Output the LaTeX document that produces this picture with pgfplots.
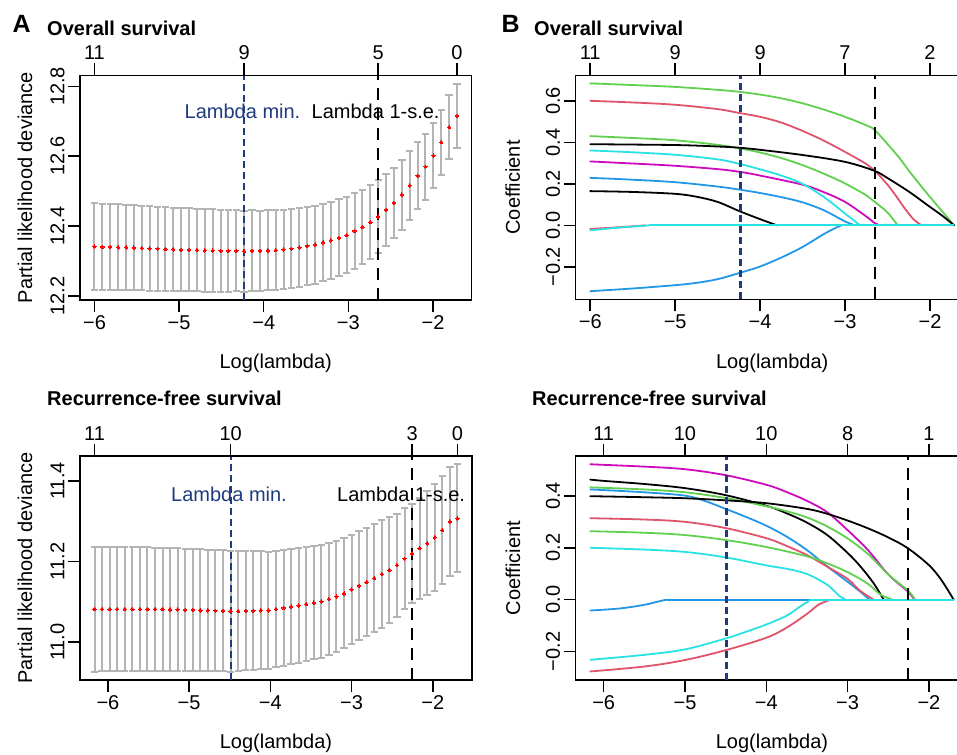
\documentclass[border=0pt]{standalone}
\usepackage{fontspec}
\setmainfont{Liberation Sans}
\usepackage{pgfplots}
\usepackage{pgfplotstable}
\pgfplotsset{compat=1.18}

\definecolor{cred}{HTML}{DF536B}
\definecolor{cgreen}{HTML}{61D04F}
\definecolor{cblue}{HTML}{2297E6}
\definecolor{ccyan}{HTML}{28E2E5}
\definecolor{cmag}{HTML}{CD0BBC}
\definecolor{navy}{HTML}{1F3A7D}
\definecolor{ebgray}{RGB}{180,180,180}

\newcommand{\fs}{\fontsize{20}{24}\selectfont}

% cross-validation curve, overall survival
\pgfplotstableread{
x m e
-6.000 12.341 0.1240
-5.907 12.340 0.1236
-5.814 12.340 0.1232
-5.721 12.339 0.1227
-5.627 12.339 0.1223
-5.534 12.338 0.1219
-5.441 12.337 0.1215
-5.348 12.336 0.1211
-5.255 12.335 0.1206
-5.162 12.334 0.1202
-5.069 12.333 0.1198
-4.976 12.332 0.1194
-4.882 12.332 0.1189
-4.789 12.331 0.1185
-4.696 12.330 0.1181
-4.603 12.330 0.1177
-4.510 12.329 0.1173
-4.417 12.329 0.1168
-4.324 12.329 0.1164
-4.231 12.328 0.1160
-4.137 12.329 0.1155
-4.044 12.329 0.1151
-3.951 12.330 0.1146
-3.858 12.331 0.1142
-3.765 12.333 0.1137
-3.672 12.335 0.1132
-3.579 12.338 0.1128
-3.485 12.343 0.1123
-3.392 12.347 0.1118
-3.299 12.353 0.1114
-3.206 12.359 0.1109
-3.113 12.366 0.1105
-3.020 12.374 0.1100
-2.927 12.386 0.1085
-2.834 12.397 0.1070
-2.740 12.411 0.1055
-2.647 12.427 0.1040
-2.554 12.446 0.1027
-2.461 12.466 0.1013
-2.368 12.490 0.1000
-2.275 12.516 0.0983
-2.182 12.544 0.0965
-2.089 12.570 0.0948
-1.995 12.602 0.0930
-1.902 12.640 0.0927
-1.809 12.683 0.0923
-1.716 12.716 0.0920
}\tabOS

% cross-validation curve, recurrence-free survival
\pgfplotstableread{
x m e
-6.165 11.082 0.1550
-6.072 11.082 0.1547
-5.979 11.082 0.1544
-5.886 11.082 0.1542
-5.793 11.082 0.1539
-5.700 11.082 0.1536
-5.606 11.082 0.1533
-5.513 11.082 0.1531
-5.420 11.082 0.1528
-5.327 11.082 0.1525
-5.234 11.081 0.1522
-5.141 11.081 0.1519
-5.048 11.080 0.1517
-4.955 11.080 0.1514
-4.862 11.079 0.1511
-4.769 11.079 0.1508
-4.676 11.078 0.1506
-4.582 11.078 0.1503
-4.489 11.077 0.1500
-4.396 11.077 0.1491
-4.303 11.078 0.1482
-4.210 11.078 0.1473
-4.117 11.079 0.1464
-4.024 11.079 0.1455
-3.931 11.082 0.1446
-3.838 11.085 0.1437
-3.745 11.088 0.1428
-3.652 11.091 0.1419
-3.558 11.094 0.1410
-3.465 11.098 0.1402
-3.372 11.101 0.1393
-3.279 11.107 0.1385
-3.186 11.113 0.1377
-3.093 11.121 0.1368
-3.000 11.131 0.1360
-2.907 11.140 0.1352
-2.814 11.149 0.1345
-2.721 11.159 0.1338
-2.628 11.169 0.1330
-2.534 11.179 0.1310
-2.441 11.191 0.1280
-2.348 11.207 0.1250
-2.255 11.220 0.1230
-2.162 11.233 0.1250
-2.069 11.245 0.1290
-1.976 11.260 0.1330
-1.883 11.278 0.1340
-1.790 11.299 0.1350
-1.696 11.307 0.1340
}\tabRFS

\pgfplotsset{
  rbase/.style={scale only axis, anchor=south west, tick align=outside,
    major tick length=12pt, axis line style={line width=1.5pt},
    every tick/.style={line width=1.5pt, black},
    tick label style={font=\fs}},
  rmain/.style={rbase, xtick pos=left, ytick pos=left,
    yticklabel style={rotate=90, anchor=south},
    every axis y label/.style={at={(axis description cs:#1,0.5)}, rotate=90, anchor=base, font=\fs},
    every axis x label/.style={at={(axis description cs:0.5,-0.306)}, anchor=base, font=\fs},
    xlabel={Log(lambda)},
    xtick={-6,-5,-4,-3,-2}, xticklabels={−6,−5,−4,−3,−2}},
  rtop/.style={rbase, axis x line*=top, axis y line=none, ymin=0, ymax=1},
  bars/.style={draw=none, mark=none, forget plot,
    error bars/.cd, y dir=both, y explicit, error mark=-,
    error bar style={line width=2pt, color=ebgray},
    error mark options={rotate=90, line width=2pt, color=ebgray, mark size=3.7pt}},
  dots/.style={only marks, color=red, mark=*, mark size=1.7pt,
    mark options={draw=red, fill=red, line width=0pt}},
  cv/.style={line width=1.8pt, smooth, tension=0.55, mark=none, line cap=round},
  zl/.style={line width=1.8pt, mark=none},
  lmin/.style={navy, line width=2.1pt, dash pattern=on 7pt off 4pt},
  lse/.style={black, line width=2.1pt, dash pattern=on 12pt off 8pt},
}

\begin{document}
\begin{tikzpicture}[x=1pt,y=1pt]
\path[use as bounding box] (0,0) rectangle (957,754);

% ---------------- A: overall survival, CV
\begin{axis}[rmain=-0.1226, at={(80pt,454pt)}, width=391.5pt, height=224.7pt,
  xmin=-6.171, xmax=-1.545, ymin=12.188, ymax=12.832,
  ytick={12.2,12.4,12.6,12.8}, yticklabels={12.2,12.4,12.6,12.8},
  ylabel={Partial likelihood deviance}]
\addplot[bars] table[x=x, y=m, y error=e]{\tabOS};
\addplot[dots] table[x=x, y=m]{\tabOS};
\addplot[lmin] coordinates {(-4.231,12.188) (-4.231,12.832)};
\addplot[lse] coordinates {(-2.647,12.188) (-2.647,12.832)};
\end{axis}
\begin{axis}[rtop, at={(80pt,454pt)}, width=391.5pt, height=224.7pt,
  xmin=-6.171, xmax=-1.545,
  xtick={-6,-4.231,-2.647,-1.716}, xticklabels={11,9,5,0}]
\end{axis}

% ---------------- B: overall survival, coefficients
\begin{axis}[rmain=-0.1418, at={(575.7pt,454.5pt)}, width=392.9pt, height=224pt,
  xmin=-6.171, xmax=-1.545, ymin=-0.357, ymax=0.722,
  ytick={-0.2,0,0.2,0.4,0.6}, yticklabels={−0.2,0.0,0.2,0.4,0.6},
  ylabel={Coefficient}]
\addplot[cv, cgreen] coordinates {(-6,0.684) (-5.5,0.676) (-5,0.667) (-4.5,0.653) (-4.24,0.643) (-4,0.630) (-3.75,0.612) (-3.5,0.588) (-3.25,0.558) (-3,0.523) (-2.75,0.482) (-2.655,0.461) (-2.5,0.392) (-2.35,0.320) (-2.25,0.264) (-2.1,0.187) (-2,0.137) (-1.85,0.065) (-1.716,0)};
\addplot[cv, cred] coordinates {(-6,0.600) (-5.5,0.592) (-5,0.581) (-4.5,0.560) (-4.24,0.541) (-4,0.523) (-3.75,0.495) (-3.5,0.455) (-3.25,0.408) (-3,0.354) (-2.75,0.296) (-2.655,0.266) (-2.5,0.196) (-2.4,0.142) (-2.31,0.089) (-2.2,0.032) (-2.1,0)};
\addplot[cv, cgreen] coordinates {(-6,0.430) (-5.5,0.421) (-5,0.410) (-4.5,0.388) (-4.24,0.371) (-4,0.351) (-3.75,0.324) (-3.5,0.290) (-3.25,0.249) (-3,0.202) (-2.75,0.145) (-2.655,0.115) (-2.5,0.062) (-2.38,0)};
\addplot[cv, black] coordinates {(-6,0.391) (-5,0.387) (-4.5,0.380) (-4.24,0.374) (-4,0.364) (-3.5,0.339) (-3,0.306) (-2.655,0.263) (-2.5,0.228) (-2.25,0.163) (-2,0.089) (-1.85,0.045) (-1.716,0)};
\addplot[cv, cmag] coordinates {(-6,0.308) (-5.5,0.298) (-5,0.287) (-4.5,0.271) (-4.24,0.258) (-4,0.240) (-3.5,0.196) (-3.25,0.160) (-3,0.113) (-2.75,0.043) (-2.655,0.012) (-2.59,0)};
\addplot[cv, ccyan] coordinates {(-6,0.361) (-5.5,0.352) (-5,0.340) (-4.5,0.318) (-4.24,0.296) (-4,0.270) (-3.75,0.240) (-3.5,0.200) (-3.25,0.137) (-3,0.057) (-2.82,0)};
\addplot[cv, cblue] coordinates {(-6,0.229) (-5.5,0.220) (-5,0.208) (-4.5,0.187) (-4.24,0.172) (-4,0.156) (-3.75,0.136) (-3.5,0.111) (-3.25,0.073) (-3,0.019) (-2.88,0)};
\addplot[cv, black] coordinates {(-6,0.165) (-5.5,0.161) (-5,0.152) (-4.75,0.138) (-4.5,0.113) (-4.24,0.068) (-4,0.030) (-3.8,0)};
\addplot[cv, cred] coordinates {(-6,-0.017) (-5.7,-0.010) (-5.35,0)};
\addplot[cv, cblue] coordinates {(-6,-0.317) (-5.5,-0.304) (-5,-0.288) (-4.75,-0.277) (-4.5,-0.259) (-4.24,-0.229) (-4,-0.198) (-3.75,-0.155) (-3.5,-0.104) (-3.25,-0.042) (-3.1,-0.010) (-3.04,0)};
\addplot[cv, ccyan] coordinates {(-6,-0.024) (-5.7,-0.012) (-5.31,0)};
\addplot[zl, ccyan] coordinates {(-5.31,0) (-1.716,0)};
\addplot[lmin] coordinates {(-4.231,-0.357) (-4.231,0.722)};
\addplot[lse] coordinates {(-2.647,-0.357) (-2.647,0.722)};
\end{axis}
\begin{axis}[rtop, at={(575.7pt,454.5pt)}, width=392.9pt, height=224pt,
  xmin=-6.171, xmax=-1.545,
  xtick={-6,-5,-4,-3,-2}, xticklabels={11,9,9,7,2}]
\end{axis}

% ---------------- C: recurrence-free survival, CV
\begin{axis}[rmain=-0.1224, at={(80pt,74pt)}, width=392pt, height=224pt,
  xmin=-6.344, xmax=-1.517, ymin=10.906, ymax=11.462,
  ytick={11.0,11.2,11.4}, yticklabels={11.0,11.2,11.4},
  ylabel={Partial likelihood deviance}]
\addplot[bars] table[x=x, y=m, y error=e]{\tabRFS};
\addplot[dots] table[x=x, y=m]{\tabRFS};
\addplot[lmin] coordinates {(-4.489,10.906) (-4.489,11.462)};
\addplot[lse] coordinates {(-2.255,10.906) (-2.255,11.462)};
\end{axis}
\begin{axis}[rtop, at={(80pt,74pt)}, width=392pt, height=224pt,
  xmin=-6.344, xmax=-1.517,
  xtick={-6.165,-4.489,-2.255,-1.696}, xticklabels={11,10,3,0}]
\end{axis}

% ---------------- D: recurrence-free survival, coefficients
\begin{axis}[rmain=-0.1418, at={(575.7pt,74pt)}, width=392.5pt, height=224pt,
  xmin=-6.344, xmax=-1.517, ymin=-0.310, ymax=0.554,
  ytick={-0.2,0,0.2,0.4}, yticklabels={−0.2,0.0,0.2,0.4},
  ylabel={Coefficient}]
\addplot[cv, cmag] coordinates {(-6.165,0.522) (-5.5,0.513) (-5,0.503) (-4.5,0.480) (-4,0.443) (-3.75,0.415) (-3.5,0.381) (-3.25,0.337) (-3,0.268) (-2.75,0.191) (-2.5,0.097) (-2.258,0.031) (-2.18,0)};
\addplot[cv, black] coordinates {(-6.165,0.463) (-6,0.458) (-5.5,0.446) (-5,0.430) (-4.5,0.403) (-4,0.362) (-3.75,0.333) (-3.5,0.297) (-3.25,0.249) (-3,0.180) (-2.84,0.127) (-2.68,0.063) (-2.557,0)};
\addplot[cv, cgreen] coordinates {(-6.165,0.433) (-5.5,0.425) (-5,0.414) (-4.5,0.392) (-4,0.360) (-3.75,0.341) (-3.5,0.317) (-3.25,0.282) (-3,0.236) (-2.75,0.176) (-2.5,0.097) (-2.258,0.035) (-2.17,0)};
\addplot[cv, cblue] coordinates {(-6.165,0.425) (-5.5,0.414) (-5,0.401) (-4.75,0.380) (-4.5,0.350) (-4.25,0.319) (-4,0.285) (-3.75,0.243) (-3.5,0.191) (-3.25,0.128) (-3,0.069) (-2.85,0.032) (-2.73,0)};
\addplot[cv, cred] coordinates {(-6.165,0.314) (-5.5,0.309) (-5,0.300) (-4.5,0.276) (-4,0.237) (-3.75,0.207) (-3.5,0.172) (-3.25,0.127) (-3,0.080) (-2.85,0.035) (-2.68,0)};
\addplot[cv, cgreen] coordinates {(-6.165,0.264) (-5.5,0.258) (-5,0.249) (-4.5,0.230) (-4,0.203) (-3.5,0.167) (-3.25,0.140) (-3,0.106) (-2.75,0.061) (-2.6,0.020) (-2.45,0)};
\addplot[cv, ccyan] coordinates {(-6.165,0.200) (-5.5,0.193) (-5,0.184) (-4.5,0.163) (-4,0.132) (-3.75,0.119) (-3.5,0.099) (-3.25,0.057) (-3.1,0.014) (-3.02,0)};
\addplot[cv, black] coordinates {(-6.165,0.399) (-5.5,0.395) (-5,0.391) (-4.5,0.383) (-4,0.372) (-3.5,0.350) (-3.25,0.331) (-3,0.305) (-2.75,0.275) (-2.5,0.240) (-2.258,0.198) (-2,0.133) (-1.85,0.077) (-1.696,0)};
\addplot[cv, cred] coordinates {(-6.165,-0.277) (-5.5,-0.258) (-5,-0.233) (-4.5,-0.195) (-4,-0.147) (-3.75,-0.108) (-3.5,-0.055) (-3.35,-0.018) (-3.2,0)};
\addplot[cv, cblue] coordinates {(-6.165,-0.042) (-5.8,-0.034) (-5.5,-0.020) (-5.3,-0.005) (-5.22,0)};
\addplot[zl, cblue] coordinates {(-5.22,0) (-3.45,0)};
\addplot[cv, ccyan] coordinates {(-6.165,-0.232) (-5.5,-0.213) (-5,-0.192) (-4.5,-0.150) (-4.25,-0.124) (-4,-0.096) (-3.75,-0.062) (-3.6,-0.030) (-3.45,0)};
\addplot[zl, ccyan] coordinates {(-3.45,0) (-1.696,0)};
\addplot[lmin] coordinates {(-4.489,-0.310) (-4.489,0.554)};
\addplot[lse] coordinates {(-2.255,-0.310) (-2.255,0.554)};
\end{axis}
\begin{axis}[rtop, at={(575.7pt,74pt)}, width=392.5pt, height=224pt,
  xmin=-6.344, xmax=-1.517,
  xtick={-6,-5,-4,-3,-2}, xticklabels={11,10,10,8,1}]
\end{axis}

% ---------------- titles and labels
\node[anchor=base west, inner sep=0, font=\bfseries\fontsize{25}{30}\selectfont] at (12.5,721) {A};
\node[anchor=base west, inner sep=0, font=\bfseries\fontsize{25}{30}\selectfont] at (501.5,721) {B};
\node[anchor=base west, inner sep=0, font=\bfseries\fs] at (47,718) {Overall survival};
\node[anchor=base west, inner sep=0, font=\bfseries\fs] at (534,718) {Overall survival};
\node[anchor=base west, inner sep=0, font=\bfseries\fs] at (47,348.3) {Recurrence-free survival};
\node[anchor=base west, inner sep=0, font=\bfseries\fs] at (532,348.3) {Recurrence-free survival};
\node[anchor=base west, inner sep=0, font=\fs, text=navy] at (184.5,635.7) {Lambda min.};
\node[anchor=base west, inner sep=0, font=\fs] at (311.5,635.7) {Lambda 1-s.e.};
\node[anchor=base west, inner sep=0, font=\fs, text=navy] at (171,252.5) {Lambda min.};
\node[anchor=base west, inner sep=0, font=\fs] at (337,252.5) {Lambda 1-s.e.};
\end{tikzpicture}
\end{document}
